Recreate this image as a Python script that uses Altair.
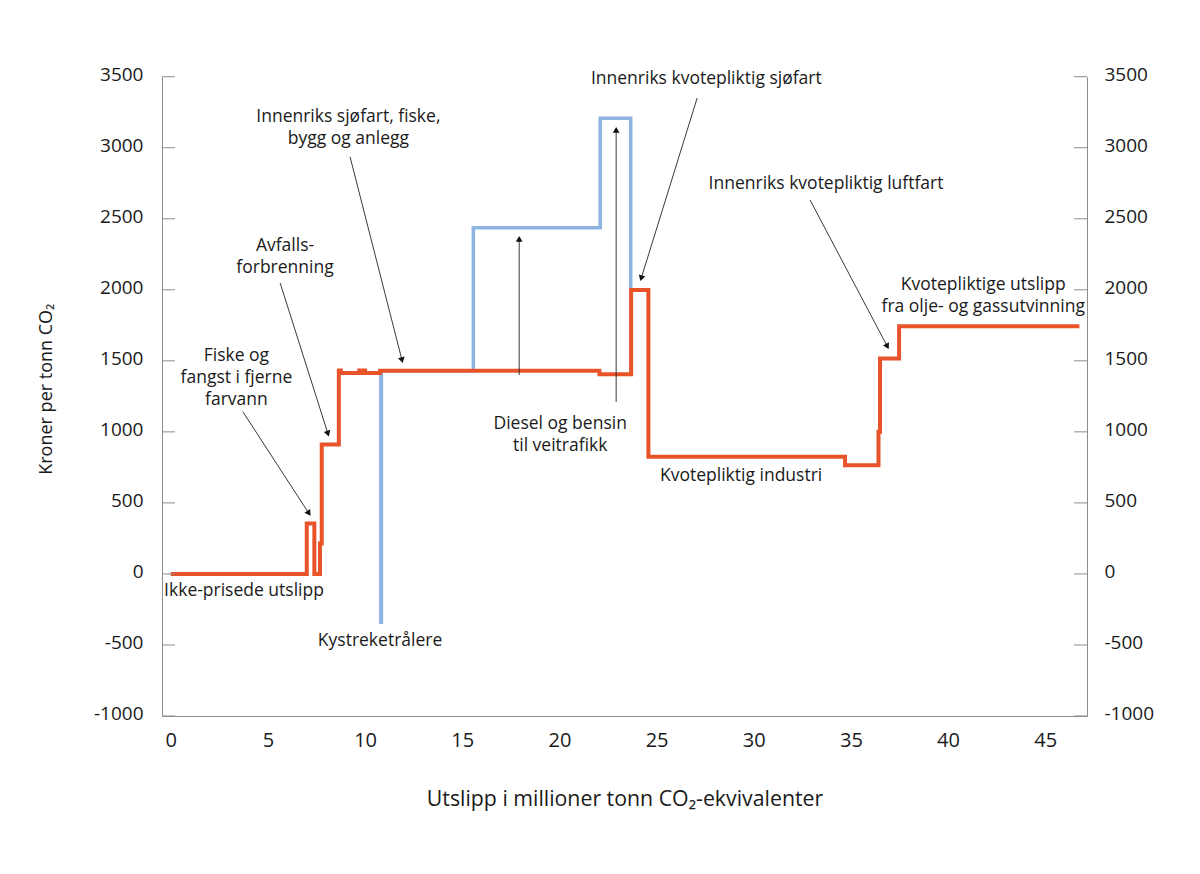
import math
import altair as alt
import pandas as pd

# ---------------- data ----------------
# Orange series: step-after break points (mill. tonn CO2-ekv.) and price levels (kr/tonn)
orange_x = [0, 7.00, 7.39, 7.68, 7.77, 8.65, 8.75, 9.70, 9.78, 9.92, 10.00, 10.77,
            22.06, 23.69, 24.58, 34.70, 36.42, 36.50, 37.48, 46.76]
orange_y = [0, 355, 0, 214, 911, 1432, 1415, 1432, 1415, 1432, 1415, 1430,
            1406, 1998, 824, 765, 1000, 1517, 1744, 1744]

# Blue series (where it differs from the orange one)
blue_x = [10.77, 10.81, 10.84, 15.57, 22.10, 23.67, 24.58]
blue_y = [1430, -340, 1430, 2437, 3207, 1998, 1998]

# Annotations (position = centre of the first text line)
ann_text = [
    "Ikke-prisede utslipp",
    "Fiske og\nfangst i fjerne\nfarvann",
    "Avfalls-\nforbrenning",
    "Innenriks sjøfart, fiske,\nbygg og anlegg",
    "Kystreketrålere",
    "Diesel og bensin\ntil veitrafikk",
    "Innenriks kvotepliktig sjøfart",
    "Kvotepliktig industri",
    "Innenriks kvotepliktig luftfart",
    "Kvotepliktige utslipp\nfra olje- og gassutvinning",
]
ann_x = [3.77, 3.38, 5.88, 9.14, 10.77, 20.04, 27.56, 29.35, 33.72, 41.81]
ann_y = [-120, 1534, 2308, 3216, -472, 1055, 3483, 689, 2744, 2034]

# Arrows: start (x1, y1) -> tip (x2, y2)
arrow_x1 = [3.71, 5.63, 9.23, 17.93, 22.92, 27.09, 32.90]
arrow_y1 = [1142, 2048, 2935, 1400, 1210, 3350, 2632]
arrow_x2 = [7.22, 8.15, 11.95, 17.93, 22.92, 24.15, 36.97]
arrow_y2 = [403, 961, 1478, 2386, 3153, 2055, 1577]

x_ticks = [0, 5, 10, 15, 20, 25, 30, 35, 40, 45]
y_ticks = [-1000, -500, 0, 500, 1000, 1500, 2000, 2500, 3000, 3500]

# ---------------- style ----------------
W, H = 925, 639.3
XDOM = [-0.45, 47.15]
YDOM = [-1000, 3500]
FONT = "Open Sans"
TXT = "#1a1a1a"
AX = "#8c8c8c"
ORANGE = "#E9532A"
BLUE = "#8EB4E2"
LABEL_EXPR = "datum.value < 0 ? '-' + format(-datum.value, 'd') : format(datum.value, 'd')"
X_TITLE = "Utslipp i millioner tonn CO₂-ekvivalenter"
Y_TITLE = "Kroner per tonn CO₂"

kx = W / (XDOM[1] - XDOM[0])
ky = H / (YDOM[1] - YDOM[0])

xs = alt.Scale(domain=XDOM, nice=False, zero=False)
ys = alt.Scale(domain=YDOM, nice=False, zero=False)

# ---------------- tables ----------------
df_orange = pd.DataFrame({"x": orange_x, "y": orange_y})
df_blue = pd.DataFrame({"x": blue_x, "y": blue_y})
df_ann = pd.DataFrame({"text": ann_text, "x": ann_x, "y": ann_y})

HEAD_SIZE = 46
tip = math.tan(math.radians(30)) * math.sqrt(HEAD_SIZE)
rows = []
for x1, y1, x2, y2 in zip(arrow_x1, arrow_y1, arrow_x2, arrow_y2):
    dx = (x2 - x1) * kx
    dy = -(y2 - y1) * ky
    L = math.hypot(dx, dy)
    ux, uy = dx / L, dy / L
    ang = math.degrees(math.atan2(ux, -uy)) % 360
    hx = x2 - tip * ux / kx
    hy = y2 + tip * uy / ky
    rows.append({"x": x1, "y": y1, "hx": hx, "hy": hy, "angle": ang})
df_arrows = pd.DataFrame(rows)
df_ticks = pd.DataFrame({"y": y_ticks})

# ---------------- axes ----------------
x_axis = alt.Axis(values=x_ticks, ticks=False, grid=False, domainColor=AX, domainWidth=1,
                  labelFont=FONT, labelFontSize=20, labelColor=TXT, labelPadding=14,
                  labelFlush=False, labelOverlap=False, labelExpr=LABEL_EXPR,
                  title=X_TITLE, titleFont=FONT,
                  titleFontSize=21.3, titleFontWeight="normal", titleColor=TXT,
                  titleY=83, titleBaseline="middle")
y_left = alt.Axis(values=y_ticks, ticks=False, grid=False, domainColor=AX, domainWidth=1,
                  labelFont=FONT, labelFontSize=19, labelColor=TXT, labelPadding=19,
                  labelOffset=-2.5, labelFlush=False, labelOverlap=False, labelExpr=LABEL_EXPR,
                  title=Y_TITLE, titleFont=FONT, titleFontSize=18,
                  titleFontWeight="normal", titleColor=TXT, titleAngle=270,
                  titleX=-115.7, titleY=312, titleAlign="center", titleBaseline="middle")
y_right = alt.Axis(orient="right", values=y_ticks, ticks=False, grid=False, domainColor=AX,
                   domainWidth=1, labelFont=FONT, labelFontSize=19, labelColor=TXT,
                   labelPadding=17, labelOffset=-2.5, labelFlush=False, labelOverlap=False,
                   labelExpr=LABEL_EXPR, title=None)


def X(field):
    return alt.X(field, scale=xs, axis=x_axis, title=X_TITLE)


def Y(field):
    return alt.Y(field, scale=ys, axis=y_left, title=Y_TITLE)


# ---------------- layers ----------------
blue = alt.Chart(df_blue).mark_line(interpolate="step-after", color=BLUE, strokeWidth=3.5).encode(
    x=X("x:Q"), y=Y("y:Q"), order="x:Q",
)
orange = alt.Chart(df_orange).mark_line(interpolate="step-after", color=ORANGE, strokeWidth=4).encode(
    x=X("x:Q"), y=Y("y:Q"), order="x:Q",
)
rules = alt.Chart(df_arrows).mark_rule(color="#222222", strokeWidth=0.9).encode(
    x=X("x:Q"), y=Y("y:Q"), x2="hx:Q", y2="hy:Q",
)
heads = alt.Chart(df_arrows).mark_point(shape="triangle-up", filled=True, color="#111111",
                                         size=HEAD_SIZE, opacity=1).encode(
    x=X("hx:Q"), y=Y("hy:Q"), angle=alt.Angle("angle:Q", scale=None),
)
texts = alt.Chart(df_ann).mark_text(font=FONT, fontSize=17.5, color=TXT, align="center",
                                    baseline="middle", lineBreak="\n", lineHeight=22).encode(
    x=X("x:Q"), y=Y("y:Q"), text="text:N",
)
lticks = alt.Chart(df_ticks).mark_rule(color=AX, strokeWidth=1).encode(
    y=Y("y:Q"), x=alt.value(0), x2=alt.value(13))
rticks = alt.Chart(df_ticks).mark_rule(color=AX, strokeWidth=1).encode(
    y=Y("y:Q"), x=alt.value(W - 13), x2=alt.value(W))

main = alt.layer(blue, orange, rules, heads, texts, lticks, rticks)
right = alt.Chart(df_ticks).mark_point(opacity=0).encode(
    y=alt.Y("y:Q", scale=ys, axis=y_right), x=alt.value(0))

chart = alt.layer(main, right).resolve_scale(y="independent").properties(
    width=W, height=H,
    padding={"left": 154, "top": 68.7, "right": 100, "bottom": 140},
    autosize=alt.AutoSizeParams(type="none"),
).configure_view(stroke=None)

chart.save("out.html", embed_options={"renderer": "svg", "actions": False})
